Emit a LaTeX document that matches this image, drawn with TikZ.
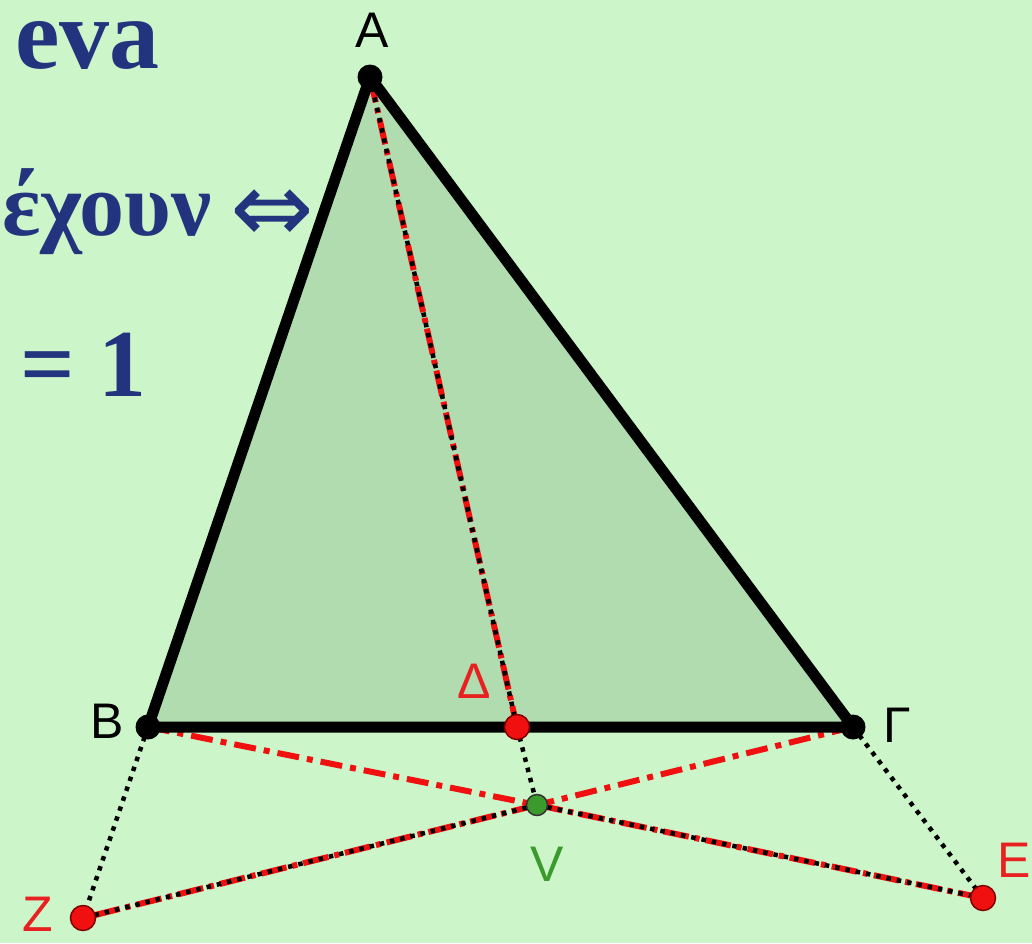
\documentclass[tikz,border=0pt]{standalone}
\usepackage{fontspec}
\setmainfont{Liberation Sans}
\newfontfamily\titlefont{Liberation Serif}
\newfontfamily\arrowfont{DejaVu Sans}
\definecolor{bgc}{HTML}{CCF6C9}
\definecolor{trifill}{HTML}{B1DCB0}
\definecolor{ptred}{HTML}{F01010}
\definecolor{lblred}{HTML}{E82020}
\definecolor{ptgreen}{HTML}{3A9A2C}
\definecolor{titleblue}{HTML}{23337E}
\tikzset{
  vtx/.style={circle,fill=black,minimum size=25pt,inner sep=0pt},
  redpt/.style={circle,fill=ptred,draw=red!50!black,line width=1.5pt,minimum size=25pt,inner sep=0pt},
  greenpt/.style={circle,fill=ptgreen,draw=black!80,line width=1.5pt,minimum size=21pt,inner sep=0pt},
  edge/.style={line width=11pt,line join=round},
  reddash/.style={draw=ptred,line width=6pt,dash pattern=on 22pt off 8pt on 6pt off 8pt},
  redbase/.style={draw=ptred,line width=6pt,dash pattern=on 26pt off 6pt on 5pt off 6pt},
  blackdots/.style={draw=black,line width=4.5pt,dash pattern=on 4.5pt off 6pt},
  lbl/.style={font=\fontsize{50}{50}\selectfont,inner sep=0pt},
  ttl/.style={text=titleblue,inner sep=0pt}
}
\begin{document}
\begin{tikzpicture}[x=1pt,y=-1pt]
\fill[bgc] (0,0) rectangle (1032,943);
\useasboundingbox (0,0) rectangle (1032,943);

% title text (left)
\node[ttl,anchor=base east,text height=48pt,text depth=0pt,font=\titlefont\bfseries\fontsize{100}{100}\selectfont] (t1) at (160,68) {eva};
\node[ttl,anchor=base east,font=\titlefont\bfseries\fontsize{90}{90}\selectfont] (t2) at (212,235) {έχουν};
\node[ttl,font=\arrowfont\fontsize{100}{100}\selectfont] (t2a) at (272,216) {⇔};
\node[ttl,anchor=base east,font=\titlefont\bfseries\fontsize{96}{96}\selectfont] (t3) at (147,396) {= 1};

% coordinates
\coordinate (a) at (370,77);
\coordinate (b) at (148,727);
\coordinate (g) at (853,727);
\coordinate (d) at (517,727);
\coordinate (v) at (537,805);
\coordinate (z) at (83,918);
\coordinate (e) at (983,898);

% triangle fill
\fill[trifill] (a) -- (b) -- (g) -- cycle;

% cevian A-Delta
\draw[redbase] (a) -- (d);
\draw[blackdots] (a) -- (d);
% dotted construction lines
\draw[blackdots] (d) -- (v);
\draw[blackdots] (b) -- (z);
\draw[blackdots] (g) -- (e);
% B-V and G-V red dash-dot
\draw[reddash] (b) -- (v);
\draw[reddash] (g) -- (v);
% V-E and V-Z combined
\draw[redbase] (v) -- (e);
\draw[blackdots] (v) -- (e);
\draw[redbase] (v) -- (z);
\draw[blackdots] (v) -- (z);

% triangle edges
\draw[edge] (a) -- (b) -- (g) -- cycle;

% points
\node[vtx] (A) at (a) {};
\node[vtx] (B) at (b) {};
\node[vtx] (G) at (g) {};
\node[redpt] (D) at (d) {};
\node[greenpt] (V) at (v) {};
\node[redpt] (Z) at (z) {};
\node[redpt] (E) at (e) {};

% labels
\node[lbl] (lA) at (372,30) {A};
\node[lbl] (lB) at (107,721) {B};
\node[lbl] (lG) at (897,725) {Γ};
\node[lbl,text=lblred] (lD) at (474,681) {Δ};
\node[lbl,text=ptgreen] (lV) at (547,864) {V};
\node[lbl,text=lblred] (lZ) at (38,914) {Z};
\node[lbl,text=lblred,anchor=west] (lE) at (997,860) {E};
\end{tikzpicture}
\end{document}
